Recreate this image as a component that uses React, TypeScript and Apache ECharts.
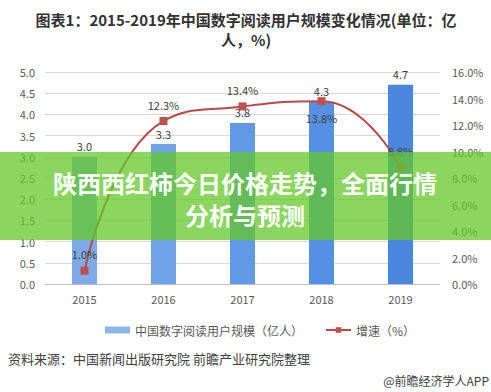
import React, { useEffect, useRef } from "react";
import * as echarts from "echarts";

const categories = ["2015", "2016", "2017", "2018", "2019"];
const userScale = [3.0, 3.3, 3.8, 4.3, 4.7];
const growthRate = [1.0, 12.3, 13.4, 13.8, 8.8];
const growthLabelPos = ["top", "top", "top", "bottom", "top"];
const barColors = ["#7eaae9", "#70a2e8", "#6299e6", "#5690e4", "#4a88e0"];

export default function App() {
  const ref = useRef<HTMLDivElement>(null);
  useEffect(() => {
    if (!ref.current) return;
    const chart = echarts.init(ref.current, undefined, { renderer: "svg" });
    const font = "'Noto Sans CJK SC', 'Noto Sans', sans-serif";
    chart.setOption({
      animation: false,
      backgroundColor: "#ffffff",
      textStyle: { fontFamily: font },
      grid: { left: 45, right: 51, top: 72, bottom: 108 },
      legend: {
        left: 100,
        top: 319,
        itemGap: 22,
        itemWidth: 25,
        itemHeight: 7,
        textStyle: { fontSize: 12, color: "#595959", fontFamily: font },
        data: [
          { name: "中国数字阅读用户规模（亿人）", icon: "rect", itemStyle: { color: "#8cb4ec" } },
          { name: "增速（%）" },
        ],
      },
      xAxis: {
        type: "category",
        data: categories,
        axisLine: { lineStyle: { color: "#bfbfbf" } },
        axisTick: { show: false },
        axisLabel: { color: "#595959", fontSize: 11, margin: 9 },
      },
      yAxis: [
        {
          type: "value",
          min: 0,
          max: 5,
          interval: 0.5,
          axisLabel: {
            color: "#595959",
            fontSize: 11,
            margin: 10,
            formatter: (v: number) => v.toFixed(1),
          },
          splitLine: { lineStyle: { color: "#d9d9d9" } },
          axisLine: { show: false },
          axisTick: { show: false },
        },
        {
          type: "value",
          min: 0,
          max: 16,
          interval: 2,
          axisLabel: {
            color: "#595959",
            fontSize: 11,
            margin: 12,
            formatter: (v: number) => v.toFixed(1) + "%",
          },
          splitLine: { show: false },
          axisLine: { show: false },
          axisTick: { show: false },
        },
      ],
      series: [
        {
          name: "中国数字阅读用户规模（亿人）",
          type: "bar",
          barWidth: 25,
          data: userScale.map((v, i) => ({ value: v, itemStyle: { color: barColors[i] } })),
          itemStyle: { color: "#8cb4ec" },
          label: {
            show: true,
            position: "top",
            distance: 5,
            fontSize: 11,
            color: "#404040",
            formatter: (p: any) => Number(p.value).toFixed(1),
          },
        },
        {
          name: "增速（%）",
          type: "line",
          yAxisIndex: 1,
          smooth: 0.5,
          symbol: "rect",
          symbolSize: 8,
          lineStyle: { color: "#b84a48", width: 2 },
          itemStyle: { color: "#c0504d" },
          data: growthRate.map((v, i) => ({
            value: v,
            label: { position: growthLabelPos[i] },
          })),
          label: {
            show: true,
            position: "top",
            distance: 7,
            fontSize: 11,
            color: "#404040",
            formatter: (p: any) => Number(p.value).toFixed(1) + "%",
          },
        },
      ],
      graphic: [
        {
          type: "text",
          x: 246,
          y: 19,
          style: {
            text: "图表1：2015-2019年中国数字阅读用户规模变化情况(单位：亿",
            fontSize: 15,
            fontWeight: "bold",
            fill: "#333333",
            align: "center",
            verticalAlign: "middle",
            fontFamily: font,
          },
        },
        {
          type: "text",
          x: 246,
          y: 39,
          style: {
            text: "人，%)",
            fontSize: 15,
            fontWeight: "bold",
            fill: "#333333",
            align: "center",
            verticalAlign: "middle",
            fontFamily: font,
          },
        },
        {
          type: "text",
          left: 8,
          top: 352,
          style: {
            text: "资料来源：中国新闻出版研究院 前瞻产业研究院整理",
            fontSize: 13,
            fill: "#404040",
            fontFamily: font,
          },
        },
        {
          type: "text",
          right: 2,
          top: 374,
          style: {
            text: "@前瞻经济学人APP",
            fontSize: 12,
            fill: "#404040",
            fontFamily: font,
          },
        },
        {
          type: "rect",
          z: 100,
          shape: { x: 0, y: 152, width: 491, height: 88 },
          style: { fill: "rgba(100, 200, 40, 0.75)" },
        },
        {
          type: "text",
          z: 101,
          x: 245,
          y: 182,
          style: {
            text: "陕西西红柿今日价格走势，全面行情",
            fontSize: 24,
            fontWeight: "bold",
            fill: "#ffffff",
            align: "center",
            verticalAlign: "middle",
            fontFamily: font,
          },
        },
        {
          type: "text",
          z: 101,
          x: 245,
          y: 214,
          style: {
            text: "分析与预测",
            fontSize: 24,
            fontWeight: "bold",
            fill: "#ffffff",
            align: "center",
            verticalAlign: "middle",
            fontFamily: font,
          },
        },
      ],
    });
    return () => chart.dispose();
  }, []);
  return (
    <div
      ref={ref}
      style={{ position: "fixed", left: 0, top: 0, width: 491, height: 392 }}
    />
  );
}
